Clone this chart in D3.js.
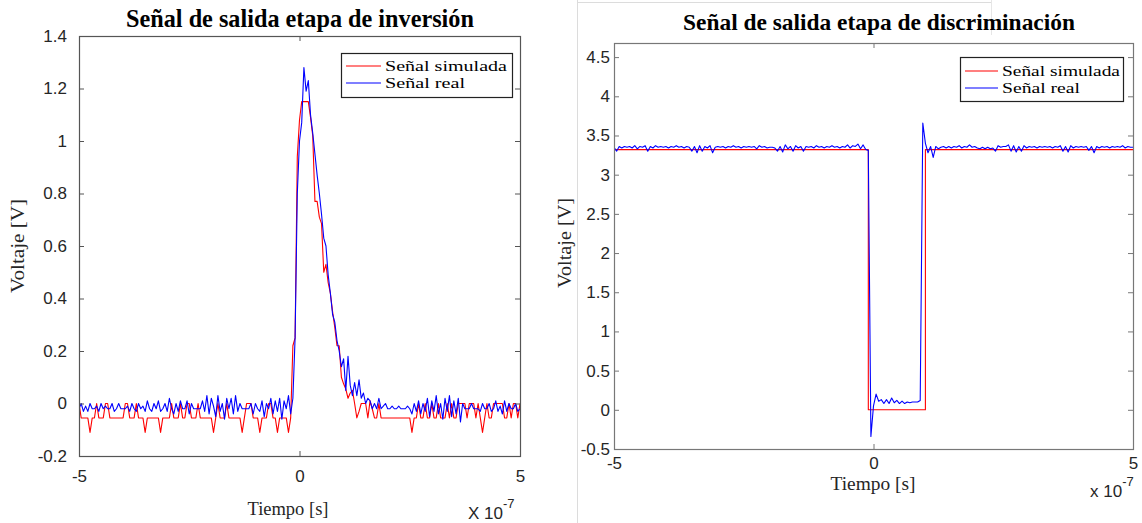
<!DOCTYPE html>
<html><head><meta charset="utf-8">
<script src="https://cdn.jsdelivr.net/npm/d3@7"></script>
<style>body{margin:0;background:#fff} svg{display:block}</style>
</head><body>
<svg id="c" width="1142" height="523"></svg>
<script>
// ---------- DATA (time in units of 1e-7 s) ----------
const sampleCount = 201;          // oscilloscope samples, -5 .. 5 (x 1e-7 s)
const sampleTime = d3.range(sampleCount).map(i => -5 + i * 0.05);

// Left: "Señal de salida etapa de inversión"
const invReal = [
  -0.02,0.0,-0.03,-0.01,-0.03,0.0,-0.02,-0.02,-0.01,-0.03,
  0.0,-0.02,-0.01,-0.02,-0.02,0.0,-0.03,-0.02,0.0,-0.02,
  -0.02,-0.02,-0.01,-0.03,0.0,-0.02,-0.03,0.0,-0.02,-0.01,
  -0.03,0.01,-0.02,-0.03,0.0,-0.02,0.01,-0.03,-0.02,0.0,
  -0.03,0.02,-0.02,-0.04,0.0,-0.03,0.01,-0.02,-0.02,0.01,
  -0.04,0.0,-0.02,-0.02,-0.02,-0.02,0.01,-0.03,0.03,-0.04,
  0.02,-0.01,-0.05,0.03,-0.03,0.0,-0.06,0.02,-0.02,0.02,
  -0.04,0.03,-0.03,0.0,-0.02,-0.02,-0.02,-0.02,0.0,-0.04,
  0.0,-0.02,-0.03,0.01,-0.05,0.0,-0.02,0.02,-0.04,0.01,
  -0.03,0.02,-0.06,0.01,-0.02,0.03,-0.04,0.02,
  0.25,0.80,1.0,1.07,1.28,1.19,1.23,1.10,1.03,0.95,
  0.87,0.80,0.72,0.63,0.60,0.49,0.42,0.34,0.31,0.24,
  0.20,0.14,0.17,0.05,0.18,0.07,0.03,0.08,0.03,0.09,
  0.02,0.04,0.0,0.02,
  0.01,-0.02,0.0,-0.02,0.02,-0.02,-0.01,0.0,-0.02,
  -0.02,-0.01,-0.02,-0.02,-0.01,-0.02,-0.02,-0.02,-0.01,-0.02,
  -0.04,0.0,-0.03,0.01,-0.04,0.0,-0.03,0.02,-0.05,0.01,
  -0.03,0.03,-0.04,0.0,-0.06,0.02,-0.03,0.03,-0.05,0.01,
  -0.04,0.02,-0.07,0.0,-0.02,-0.02,-0.02,0.0,-0.02,-0.02,
  -0.02,-0.03,0.0,-0.02,-0.02,0.0,-0.03,-0.02,0.01,-0.03,
  -0.01,-0.04,0.01,-0.03,0.0,-0.02,-0.02,0.0,-0.03,-0.02
];
const invSim = [
  0,-0.055,-0.055,-0.055,-0.055,-0.11,-0.055,-0.055,0,-0.055,
  -0.055,-0.055,0,0,-0.055,-0.055,-0.055,-0.055,-0.055,-0.055,
  -0.055,0,0,-0.055,-0.055,-0.055,0,-0.055,-0.055,-0.055,
  -0.11,-0.055,-0.055,-0.055,-0.055,-0.055,-0.055,-0.11,-0.055,-0.055,
  -0.055,-0.055,0,-0.055,-0.055,-0.055,0,-0.055,-0.055,0,
  0,-0.055,-0.055,-0.055,0,-0.055,-0.055,-0.055,-0.055,-0.055,
  -0.055,-0.11,-0.055,0,-0.055,-0.055,-0.055,0,-0.055,-0.055,
  -0.055,-0.055,-0.055,-0.055,-0.11,-0.055,0,0,0,-0.055,
  -0.055,-0.055,-0.11,-0.055,-0.055,-0.055,0,0,-0.055,-0.055,
  -0.11,-0.055,-0.055,-0.055,-0.055,-0.11,-0.055,0.22,0.25,0.94,
  1.08,1.15,1.15,1.15,1.15,1.09,1.02,0.77,0.77,0.71,
  0.685,0.50,0.53,0.46,0.42,0.35,0.29,0.22,0.22,0.10,
  0.075,0.055,0.02,0.04,0.05,0.0,-0.055,-0.03,0,0,
  0,-0.055,0.01,-0.02,-0.055,-0.055,0,-0.055,-0.055,-0.055,
  -0.055,-0.055,-0.055,-0.055,-0.055,-0.055,-0.055,-0.055,-0.055,-0.055,
  -0.055,-0.11,-0.055,-0.055,0,-0.055,-0.055,0,-0.055,-0.055,
  0,-0.055,-0.055,0,-0.055,-0.055,-0.055,0,-0.055,0,
  -0.055,-0.055,0,0,0,0,-0.055,0,0,0,
  -0.055,0,-0.055,-0.11,-0.055,0,-0.055,-0.055,0,0,
  0,0,0,-0.055,-0.055,0,-0.055,0,0,-0.055,
  0
];

// Right: "Señal de salida etapa de discriminación"
const discReal = [
  3.35,3.30,3.36,3.34,3.36,3.35,3.36,3.34,3.37,3.33,
  3.36,3.35,3.37,3.30,3.36,3.34,3.37,3.35,3.36,3.35,
  3.36,3.34,3.36,3.35,3.37,3.35,3.36,3.34,3.36,3.35,
  3.30,3.36,3.28,3.37,3.30,3.36,3.34,3.37,3.28,3.35,
  3.36,3.35,3.36,3.34,3.36,3.35,3.37,3.35,3.36,3.34,
  3.36,3.35,3.36,3.35,3.36,3.33,3.37,3.35,3.36,3.34,
  3.35,3.35,3.34,3.30,3.36,3.29,3.38,3.33,3.36,3.30,
  3.37,3.34,3.36,3.30,3.36,3.35,3.36,3.34,3.37,3.35,
  3.36,3.34,3.36,3.35,3.37,3.35,3.36,3.34,3.36,3.35,
  3.38,3.34,3.37,3.36,3.39,3.33,3.38,3.32,
  3.31,-0.34,0.05,0.20,0.11,0.13,0.08,0.13,0.08,0.15,
  0.09,0.12,0.08,0.11,0.08,0.10,0.09,0.10,0.10,0.10,
  0.12,3.66,
  3.40,3.28,3.36,3.22,3.36,3.33,3.35,3.36,3.34,3.36,
  3.34,3.36,3.35,3.37,3.34,3.36,3.35,3.38,3.35,3.36,
  3.34,3.33,3.35,3.33,3.35,3.33,3.34,3.30,3.37,3.35,
  3.36,3.36,3.38,3.30,3.37,3.29,3.36,3.30,3.37,3.34,
  3.36,3.35,3.36,3.34,3.36,3.35,3.36,3.35,3.36,3.34,
  3.36,3.35,3.37,3.30,3.36,3.29,3.37,3.34,3.36,3.35,
  3.36,3.35,3.36,3.31,3.36,3.28,3.36,3.34,3.36,3.35,
  3.36,3.34,3.36,3.35,3.36,3.35,3.37,3.34,3.36,3.35,
  3.35
];
const discSimTime  = [-5, -0.1, 1.0, 5];     // step changes of simulated signal
const discSimValue = [3.32, 0, 3.32, 3.32];

const xTicks = [-5, 0, 5];
const invYTicks = [-0.2, 0, 0.2, 0.4, 0.6, 0.8, 1, 1.2, 1.4];
const discYTicks = [-0.5, 0, 0.5, 1, 1.5, 2, 2.5, 3, 3.5, 4, 4.5];
const legendLabels = ["Señal simulada", "Señal real"];
const seriesColors = ["#ff0000", "#0000ff"];

// ---------- DRAWING ----------
const svg = d3.select("#c");
const SANS = "'Liberation Sans', Arial, sans-serif";
const SERIF = "'Liberation Serif', 'Times New Roman', serif";

function fitText(sel, target) {
  const node = sel.node();
  const fs = parseFloat(sel.attr("font-size"));
  const w = node.getComputedTextLength();
  if (w > 0) sel.attr("font-size", (fs * target / w).toFixed(2));
  return sel;
}
function spanText(sel, target, glyphs) {
  sel.attr("textLength", target).attr("lengthAdjust", glyphs ? "spacingAndGlyphs" : "spacing");
  return sel;
}

// faint frame of the pasted right image
svg.append("line").attr("x1",577.5).attr("x2",577.5).attr("y1",0).attr("y2",523).attr("stroke","#dcdcdc");
svg.append("line").attr("x1",577).attr("x2",991).attr("y1",2.5).attr("y2",2.5).attr("stroke","#dcdcdc");
svg.append("line").attr("x1",991.5).attr("x2",991.5).attr("y1",0).attr("y2",35).attr("stroke","#e6e6e6");

function panel(cfg) {
  const g = svg.append("g");
  const x = d3.scaleLinear().domain([-5, 5]).range([cfg.left, cfg.right]);
  const y = d3.scaleLinear().domain(cfg.yDomain).range([cfg.bottom, cfg.top]);
  const clipId = "clip" + cfg.id;
  svg.append("clipPath").attr("id", clipId).append("rect")
    .attr("x", cfg.left).attr("y", cfg.top)
    .attr("width", cfg.right - cfg.left).attr("height", cfg.bottom - cfg.top);

  const lines = g.append("g").attr("clip-path", `url(#${clipId})`);
  cfg.series.forEach(s => {
    const line = d3.line().x(d => x(d[0])).y(d => y(d[1]));
    if (s.step) line.curve(d3.curveStepAfter);
    lines.append("path")
      .datum(s.t.map((t, i) => [t, s.v[i]]))
      .attr("fill", "none").attr("stroke", s.color)
      .attr("stroke-width", 1.1).attr("stroke-linejoin", "round")
      .attr("d", line);
  });

  const axisColor = cfg.axisColor;
  const styleAxis = a => {
    a.select(".domain").remove();
    a.selectAll(".tick line").attr("stroke", axisColor);
    a.selectAll("text").attr("font-family", SANS).attr("font-size", 17).attr("fill", "#262626");
  };
  const fmt = d => String(+d.toFixed(1));
  g.append("g").attr("transform", `translate(0,${cfg.bottom})`)
    .call(d3.axisBottom(x).tickValues(xTicks).tickSizeInner(-5).tickSizeOuter(0).tickPadding(cfg.xPad).tickFormat(fmt))
    .call(styleAxis);
  g.append("g").attr("transform", `translate(0,${cfg.top})`)
    .call(d3.axisTop(x).tickValues(xTicks).tickSizeInner(-5).tickSizeOuter(0).tickFormat(""))
    .call(styleAxis);
  g.append("g").attr("transform", `translate(${cfg.left},0)`)
    .call(d3.axisLeft(y).tickValues(cfg.yTicks).tickSizeInner(-5).tickSizeOuter(0).tickPadding(cfg.yPad).tickFormat(fmt))
    .call(styleAxis);
  g.append("g").attr("transform", `translate(${cfg.right},0)`)
    .call(d3.axisRight(y).tickValues(cfg.yTicks).tickSizeInner(-5).tickSizeOuter(0).tickFormat(""))
    .call(styleAxis);

  g.append("rect").attr("x", cfg.left + 0.5).attr("y", cfg.top + 0.5)
    .attr("width", cfg.right - cfg.left).attr("height", cfg.bottom - cfg.top)
    .attr("fill", "none").attr("stroke", axisColor).attr("stroke-width", 1.2);

  // title
  const title = g.append("text").attr("x", cfg.titleX).attr("y", cfg.titleY)
    .attr("text-anchor", "middle").attr("font-family", SERIF).attr("font-weight", "bold")
    .attr("font-size", 20).attr("fill", "#000").text(cfg.title);
  fitText(title, cfg.titleW);

  // axis labels
  const xl = g.append("text").attr("x", cfg.xLabelX).attr("y", cfg.xLabelY)
    .attr("text-anchor", "middle").attr("font-family", SERIF).attr("font-size", 18)
    .attr("fill", "#262626").text("Tiempo [s]");
  spanText(xl, cfg.xLabelW, true);
  const yl = g.append("text").attr("transform", `translate(${cfg.yLabelX},${cfg.yLabelY}) rotate(-90)`)
    .attr("text-anchor", "middle").attr("font-family", SERIF).attr("font-size", 18)
    .attr("fill", "#262626").text("Voltaje [V]");
  spanText(yl, cfg.yLabelW, true);

  // exponent
  const ex = g.append("text").attr("x", cfg.expX).attr("y", cfg.expY)
    .attr("font-family", SANS).attr("font-size", 17).attr("fill", "#262626");
  ex.append("tspan").text(cfg.expPrefix);
  ex.append("tspan").attr("dy", -11).attr("font-size", 13).text("-7");

  // legend
  const L = cfg.legend;
  const lg = g.append("g");
  lg.append("rect").attr("x", L.x + 0.5).attr("y", L.y + 0.5).attr("width", L.w).attr("height", L.h)
    .attr("fill", "#fff").attr("stroke", "#222").attr("stroke-width", 1.2);
  legendLabels.forEach((lab, i) => {
    const yy = L.y + L.row0 + i * L.rowH;
    lg.append("line").attr("x1", L.x + 5).attr("x2", L.x + 5 + L.lineW)
      .attr("y1", yy).attr("y2", yy).attr("stroke", seriesColors[i]).attr("stroke-width", 1.2);
    const t = lg.append("text").attr("x", L.x + L.textX).attr("y", yy + 5)
      .attr("font-family", SERIF).attr("font-size", 14.5).attr("fill", "#000").text(lab);
    spanText(t, L.textW[i], true);
  });
}

panel({
  id: "inv", left: 79, right: 520, top: 36, bottom: 456,
  yDomain: [-0.2, 1.4], yTicks: invYTicks, xPad: 14, yPad: 12, axisColor: "#555",
  series: [
    { t: sampleTime, v: invSim, color: seriesColors[0] },
    { t: sampleTime, v: invReal, color: seriesColors[1] }
  ],
  title: "Señal de salida etapa de inversión", titleX: 300, titleY: 27, titleW: 348,
  xLabelX: 288, xLabelY: 515, xLabelW: 81,
  yLabelX: 24, yLabelY: 246, yLabelW: 94,
  expX: 468, expY: 519, expPrefix: "X 10",
  legend: { x: 341, y: 53, w: 171, h: 44, row0: 13, rowH: 17, lineW: 35, textX: 44, textW: [122, 80] }
});

panel({
  id: "disc", left: 614, right: 1133, top: 43, bottom: 449,
  yDomain: [-0.5, 4.68], yTicks: discYTicks, xPad: 8, yPad: 4, axisColor: "#777",
  series: [
    { t: discSimTime, v: discSimValue, color: seriesColors[0], step: true },
    { t: sampleTime, v: discReal, color: seriesColors[1] }
  ],
  title: "Señal de salida etapa de discriminación", titleX: 879, titleY: 30, titleW: 392,
  xLabelX: 873, xLabelY: 490, xLabelW: 85,
  yLabelX: 571, yLabelY: 243, yLabelW: 90,
  expX: 1090, expY: 497, expPrefix: "x 10",
  legend: { x: 960, y: 57, w: 163, h: 44, row0: 14, rowH: 17, lineW: 33, textX: 42, textW: [118, 78] }
});
</script>
</body></html>
